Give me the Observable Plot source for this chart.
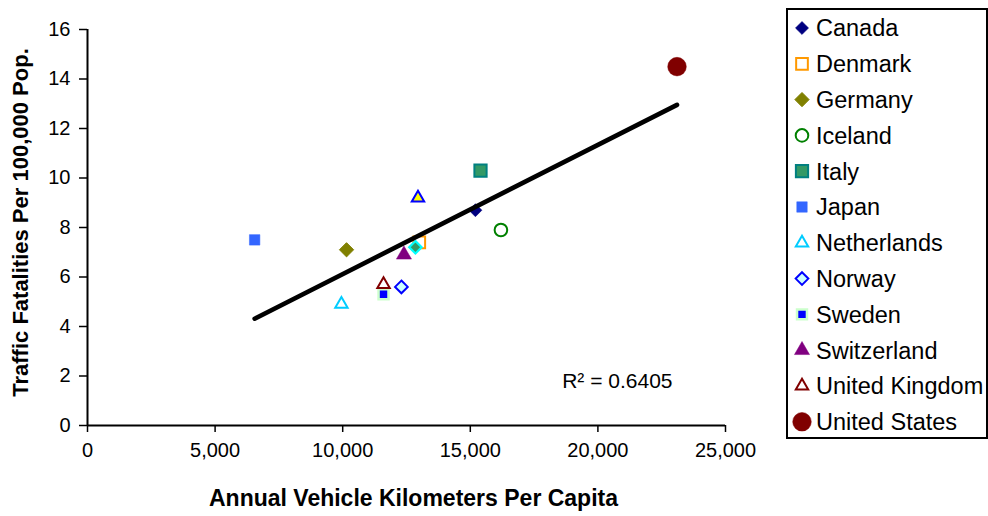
<!DOCTYPE html>
<html>
<head>
<meta charset="utf-8">
<script src="https://cdn.jsdelivr.net/npm/d3@7"></script>
<script src="https://cdn.jsdelivr.net/npm/@observablehq/plot@0.6"></script>
<style>
  html, body { margin: 0; padding: 0; background: #fff; }
  #wrap { position: relative; width: 988px; height: 516px; font-family: "Liberation Sans", Arial, sans-serif; }
  #legend { position: absolute; left: 786px; top: 8px; }
</style>
</head>
<body>
<div id="wrap"><div id="chart"></div><div id="legend"></div></div>
<script>
// ---- data ----
const countries = ["Canada","Denmark","Germany","Iceland","Italy","Japan","Netherlands","Norway","Sweden","Switzerland","United Kingdom","United States","Unlisted A","Unlisted B"];
const vehicleKm = [15200, 13000, 10150, 16200, 15400, 6550, 9950, 12300, 11600, 12400, 11600, 23100, 12950, 12850];
const fatalities = [8.7, 7.4, 7.1, 7.9, 10.3, 7.5, 4.9, 5.6, 5.3, 6.9, 5.7, 14.5, 9.2, 7.2];
const legendNames = countries.slice(0, 12);
const xTicks = [0, 5000, 10000, 15000, 20000, 25000];
const yTicks = [0, 2, 4, 6, 8, 10, 12, 14, 16];
const r2Label = "R\u00b2 = 0.6405";

// ---- marker styles ----
const styles = {
  "Canada":         {symbol: "diamond2", r: 5.9, fill: "#000080", stroke: "#000080", sw: 0.5},
  "Denmark":        {symbol: "square",   r: 6.6, fill: "#ffffff", stroke: "#ff9900", sw: 2},
  "Germany":        {symbol: "diamond2", r: 6.4, fill: "#808000", stroke: "#808000", sw: 1},
  "Iceland":        {symbol: "circle",   r: 6.3, fill: "#ffffff", stroke: "#008000", sw: 2},
  "Italy":          {symbol: "square",   r: 6.9, fill: "#339966", stroke: "#008080", sw: 2},
  "Japan":          {symbol: "square",   r: 5.9, fill: "#3366ff", stroke: "#3366ff", sw: 0.5},
  "Netherlands":    {symbol: "triangle", r: 4.6, fill: "#ffffff", stroke: "#00ccff", sw: 2},
  "Norway":         {symbol: "diamond2", r: 5.7, fill: "#ccffff", stroke: "#0000ff", sw: 2},
  "Sweden":         {symbol: "square",   r: 5.6, fill: "#0000ff", stroke: "#ccffcc", sw: 2.5},
  "Switzerland":    {symbol: "triangle", r: 5.6, fill: "#800080", stroke: "#800080", sw: 0.5},
  "United Kingdom": {symbol: "triangle", r: 4.6, fill: "#ffffff", stroke: "#800000", sw: 2},
  "United States":  {symbol: "circle",   r: 9.3, fill: "#800000", stroke: "#800000", sw: 0.5},
  "Unlisted A":     {symbol: "triangle", r: 4.6, fill: "#ffff00", stroke: "#0000ff", sw: 2},
  "Unlisted B":     {symbol: "diamond2", r: 5.6, fill: "#339966", stroke: "#00ffff", sw: 2.2}
};

const points = countries.map((c, i) => ({country: c, x: vehicleKm[i], y: fatalities[i]}));

const FONT = "'Liberation Sans', Arial, sans-serif";

const chart = Plot.plot({
  width: 988,
  height: 516,
  marginLeft: 87,
  marginRight: 263,
  marginTop: 29,
  marginBottom: 91,
  style: {fontFamily: FONT, fontSize: "20px", color: "#000", background: "#fff", overflow: "visible"},
  x: {domain: [0, 25000]},
  y: {domain: [0, 16]},
  marks: [
    Plot.axisY({ticks: yTicks, tickSize: 8, tickPadding: 9, label: null, strokeWidth: 1.5, fontSize: 20}),
    Plot.axisX({ticks: xTicks, tickSize: 7, tickPadding: 10, label: null, tickFormat: d3.format(","), strokeWidth: 1.5, fontSize: 20}),
    Plot.ruleX([0], {stroke: "#000", strokeWidth: 2}),
    Plot.ruleY([0], {stroke: "#000", strokeWidth: 2}),
    ...points.map(p => {
      const s = styles[p.country];
      return Plot.dot([p], {x: "x", y: "y", symbol: s.symbol, r: s.r, fill: s.fill, stroke: s.stroke, strokeWidth: s.sw});
    }),
    Plot.linearRegressionY(points, {x: "x", y: "y", stroke: "#000", strokeWidth: 4.6, ci: 0, strokeLinecap: "round"}),
    Plot.text([r2Label], {frameAnchor: "bottom-right", dx: -53, dy: -38, textAnchor: "end", fontSize: 21, fill: "#000"}),
    Plot.text(["Annual Vehicle Kilometers Per Capita"], {frameAnchor: "bottom", dx: 7, dy: 80, textAnchor: "middle", fontSize: 23, fontWeight: "bold", fill: "#000"}),
    Plot.text(["Traffic Fatalities Per 100,000 Pop."], {frameAnchor: "left", dx: -67, dy: -5, rotate: -90, textAnchor: "middle", fontSize: 22, fontWeight: "bold", fill: "#000"})
  ]
});
document.getElementById("chart").appendChild(chart);

// ---- legend ----
const symMap = {diamond2: d3.symbolDiamond2, square: d3.symbolSquare, circle: d3.symbolCircle, triangle: d3.symbolTriangle};
const lw = 202, lh = 431;
const leg = d3.select("#legend").append("svg").attr("width", lw).attr("height", lh)
  .style("font-family", FONT);
leg.append("rect").attr("x", 1).attr("y", 1).attr("width", lw - 2).attr("height", lh - 2)
  .attr("fill", "#fff").attr("stroke", "#000").attr("stroke-width", 2);
const rowStep = 35.8, row0 = 20;
legendNames.forEach((name, i) => {
  const s = styles[name];
  const cy = row0 + i * rowStep;
  const size = Math.PI * s.r * s.r;
  leg.append("path")
    .attr("d", d3.symbol(symMap[s.symbol], size)())
    .attr("transform", `translate(16,${cy})`)
    .attr("fill", s.fill).attr("stroke", s.stroke).attr("stroke-width", s.sw);
  leg.append("text").attr("x", 30).attr("y", cy).attr("dy", "0.36em")
    .attr("font-size", 23.5).attr("fill", "#000").text(name);
});
</script>
</body>
</html>
